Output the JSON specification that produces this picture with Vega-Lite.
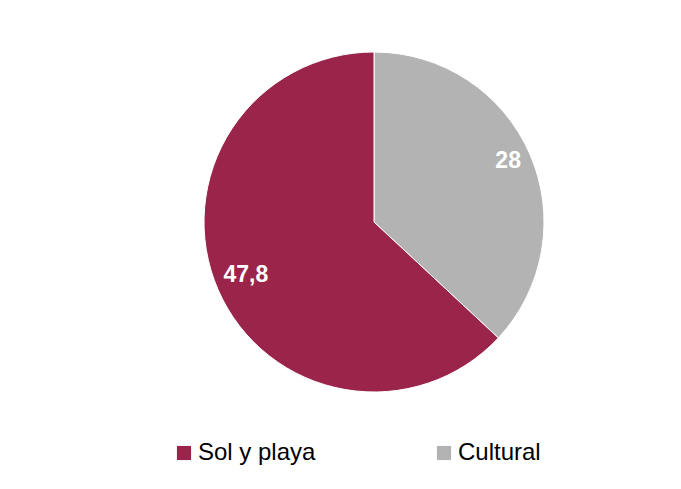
{
  "$schema": "https://vega.github.io/schema/vega-lite/v6.json",
  "autosize": {"type": "none"},
  "width": 340,
  "height": 340,
  "padding": {"left": 204, "top": 52, "right": 137, "bottom": 97},
  "background": "white",
  "data": {
    "values": [
      {"cat": "Cultural", "valor": 28, "etiqueta": "28"},
      {"cat": "Sol y playa", "valor": 47.8, "etiqueta": "47,8"}
    ]
  },
  "encoding": {
    "theta": {"field": "valor", "type": "quantitative", "stack": true},
    "order": {"field": "cat", "sort": "ascending"}
  },
  "layer": [
    {
      "mark": {"type": "arc", "outerRadius": 170, "stroke": "white", "strokeWidth": 1},
      "encoding": {
        "color": {
          "field": "cat",
          "type": "nominal",
          "scale": {"domain": ["Sol y playa", "Cultural"], "range": ["#9B254A", "#B3B3B3"]},
          "legend": {
            "title": null,
            "orient": "none",
            "legendX": -32,
            "legendY": 389,
            "direction": "horizontal",
            "columns": 2,
            "columnPadding": 116,
            "symbolType": "square",
            "symbolSize": 200,
            "symbolStrokeWidth": 0,
            "labelFontSize": 24,
            "labelFont": "Liberation Sans",
            "labelColor": "#000000",
            "labelOffset": 2,
            "labelLimit": 300
          }
        }
      }
    },
    {
      "mark": {"type": "text", "radius": 143, "dx": 3, "dy": -4, "fill": "white", "fontSize": 23, "fontWeight": "bold", "font": "Liberation Sans"},
      "encoding": {
        "text": {"field": "etiqueta", "type": "nominal"},
        "detail": {"field": "cat", "type": "nominal"}
      }
    }
  ],
  "config": {"view": {"stroke": null}}
}
